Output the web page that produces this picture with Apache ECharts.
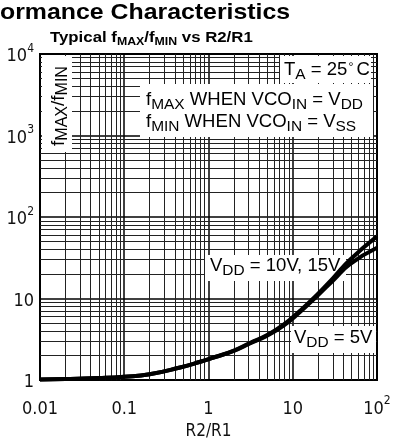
<!DOCTYPE html>
<html>
<head>
<meta charset="utf-8">
<script src="https://cdn.jsdelivr.net/npm/echarts@6/dist/echarts.min.js"></script>
<style>
  html, body { margin: 0; padding: 0; background: #fff; }
  #main { width: 401px; height: 445px; }
</style>
</head>
<body>
<div id="main"></div>
<script>
// R2/R1, with fMAX/fMIN for each supply
var ratioR2R1 = [0.01, 0.02, 0.05, 0.1, 0.2, 0.46, 0.8, 1.2, 2, 3.1, 4.9, 7.7, 12.2, 19.2, 30.3, 47.8, 100];
var vdd10_15 = [1.02, 1.03, 1.06, 1.1, 1.18, 1.43, 1.68, 1.92, 2.3, 2.85, 3.55, 4.75, 7.1, 11, 18, 30, 58];
var vdd5 = [1.02, 1.03, 1.06, 1.1, 1.18, 1.43, 1.68, 1.92, 2.28, 2.81, 3.48, 4.62, 6.85, 10.6, 16.8, 26.5, 42];

// tick labels (base + superscript)
var xTickBase = ['0.01', '0.1', '1', '10', '10'];
var xTickExp = ['', '', '', '', '2'];
var yTickBase = ['1', '10', '10', '10', '10'];
var yTickExp = ['', '', '2', '3', '4'];

// log grid lines: 2..9 inside each decade
var gridMult = [2, 3, 4, 5, 6, 7, 8, 9];
var xDecades = [0.01, 0.1, 1, 10];
var yDecades = [1, 10, 100, 1000];

var dom = document.getElementById('main');
var myChart = echarts.init(dom, null, { renderer: 'canvas' });

var tickFont = "'Liberation Sans Narrow', 'DejaVu Sans Condensed', sans-serif";
var annFont = "'Liberation Sans', Arial, sans-serif";

function toXY(xs, ys) { return xs.map(function (x, i) { return [x, ys[i]]; }); }

var minorLines = [];
xDecades.forEach(function (d) {
    gridMult.forEach(function (m) { minorLines.push({ xAxis: +(d * m).toPrecision(3) }); });
});
yDecades.forEach(function (d) {
    gridMult.forEach(function (m) { minorLines.push({ yAxis: +(d * m).toPrecision(3) }); });
});

var tickRich = {
    b: { fontFamily: tickFont, fontSize: 18, color: '#111', padding: [5, 0, 0, 0], verticalAlign: 'top' },
    s: { fontFamily: tickFont, fontSize: 12, color: '#111', verticalAlign: 'top' }
};

function tickText(base, exp) {
    return exp ? '{b|' + base + '}{s|' + exp + '}' : '{b|' + base + '}';
}

var annRich = {
    m: { fontFamily: annFont, fontSize: 18, color: '#111', verticalAlign: 'top' },
    s: { fontFamily: annFont, fontSize: 15, color: '#111', verticalAlign: 'top', padding: [6, 0, 0, 0] },
    d: { fontFamily: annFont, fontSize: 12, color: '#111', verticalAlign: 'top', padding: [0, 3, 0, 1] }
};

function box(x, y, w, h) {
    return { type: 'rect', z: 3, shape: { x: x, y: y, width: w, height: h }, style: { fill: '#fff' } };
}
function label(x, y, text) {
    return { type: 'text', z: 4, x: x, y: y, scaleX: 1.03, style: { text: text, rich: annRich, verticalAlign: 'middle' } };
}

var option = {
    backgroundColor: '#fff',
    animation: false,
    grid: {
        left: 40, right: 24, top: 54, bottom: 54,
        show: true, borderColor: '#000', borderWidth: 2, backgroundColor: '#fff'
    },
    xAxis: {
        type: 'log', logBase: 10, min: 0.01, max: 100,
        name: 'R2/R1', nameLocation: 'middle', nameGap: 37,
        nameTextStyle: { fontFamily: tickFont, fontSize: 17, color: '#111' },
        axisLine: { show: false }, axisTick: { show: false },
        axisLabel: {
            margin: 15, rich: tickRich,
            formatter: function (v) {
                var i = Math.round(Math.log10(v)) + 2;
                return tickText(xTickBase[i], xTickExp[i]);
            }
        },
        splitLine: { show: true, lineStyle: { color: '#000', width: 1.5 } }
    },
    yAxis: {
        type: 'log', logBase: 10, min: 1, max: 10000,
        axisLine: { show: false }, axisTick: { show: false },
        axisLabel: {
            margin: 6, rich: tickRich,
            formatter: function (v) {
                var i = Math.round(Math.log10(v));
                return tickText(yTickBase[i], yTickExp[i]);
            }
        },
        splitLine: { show: true, lineStyle: { color: '#000', width: 1.5 } }
    },
    graphic: [
        { type: 'text', z: 4, x: 0, y: 2, scaleX: 1.13, style: { text: 'ormance Characteristics', font: "bold 22px 'Liberation Sans', Arial, sans-serif", fill: '#000' } },
        {
            type: 'text', z: 4, x: 50, y: 30, scaleX: 1.12,
            style: {
                text: '{t|Typical f}{s|MAX}{t|/f}{s|MIN}{t| vs R2/R1}',
                rich: {
                    t: { fontFamily: annFont, fontWeight: 'bold', fontSize: 15, color: '#101028', verticalAlign: 'top' },
                    s: { fontFamily: annFont, fontWeight: 'bold', fontSize: 11, color: '#101028', verticalAlign: 'top', padding: [6, 0, 0, 0] }
                }
            }
        },
        box(42, 56, 30, 96),
        {
            type: 'text', z: 4, x: 60, y: 106, rotation: Math.PI / 2,
            style: {
                text: '{f|f}{s|MAX}{f|/f}{s|MIN}',
                align: 'center', verticalAlign: 'middle',
                rich: {
                    f: { fontFamily: annFont, fontSize: 19, color: '#111', verticalAlign: 'top' },
                    s: { fontFamily: annFont, fontSize: 16, color: '#111', verticalAlign: 'top', padding: [6, 0, 0, 0] }
                }
            }
        },
        box(280, 56, 91, 27),
        label(284, 72, '{m|T}{s|A}{m| = 25}{d|°}{m|C}'),
        box(140, 84, 233, 53),
        label(146, 102, '{m|f}{s|MAX}{m| WHEN VCO}{s|IN}{m| = V}{s|DD}'),
        label(146, 124, '{m|f}{s|MIN}{m| WHEN VCO}{s|IN}{m| = V}{s|SS}'),
        box(205, 255, 141, 26),
        label(210, 268, '{m|V}{s|DD}{m| = 10V, 15V}'),
        box(291, 326, 85, 27),
        label(294, 340, '{m|V}{s|DD}{m| = 5V}')
    ],
    series: [
        {
            // background log grid
            type: 'line', z: 1, data: [], silent: true,
            markLine: {
                z: 1, silent: true, symbol: 'none', animation: false,
                label: { show: false },
                lineStyle: { type: 'solid', color: '#222', width: 1 },
                data: minorLines
            }
        },
        {
            name: 'VDD = 10V, 15V', type: 'line', z: 5, smooth: 0.5, showSymbol: false,
            lineStyle: { color: '#000', width: 4 },
            data: toXY(ratioR2R1, vdd10_15)
        },
        {
            name: 'VDD = 5V', type: 'line', z: 5, smooth: 0.5, showSymbol: false,
            lineStyle: { color: '#000', width: 4 },
            data: toXY(ratioR2R1, vdd5)
        }
    ]
};

if (option && typeof option === 'object') {
    myChart.setOption(option);
}

window.addEventListener('resize', myChart.resize);
</script>
</body>
</html>
